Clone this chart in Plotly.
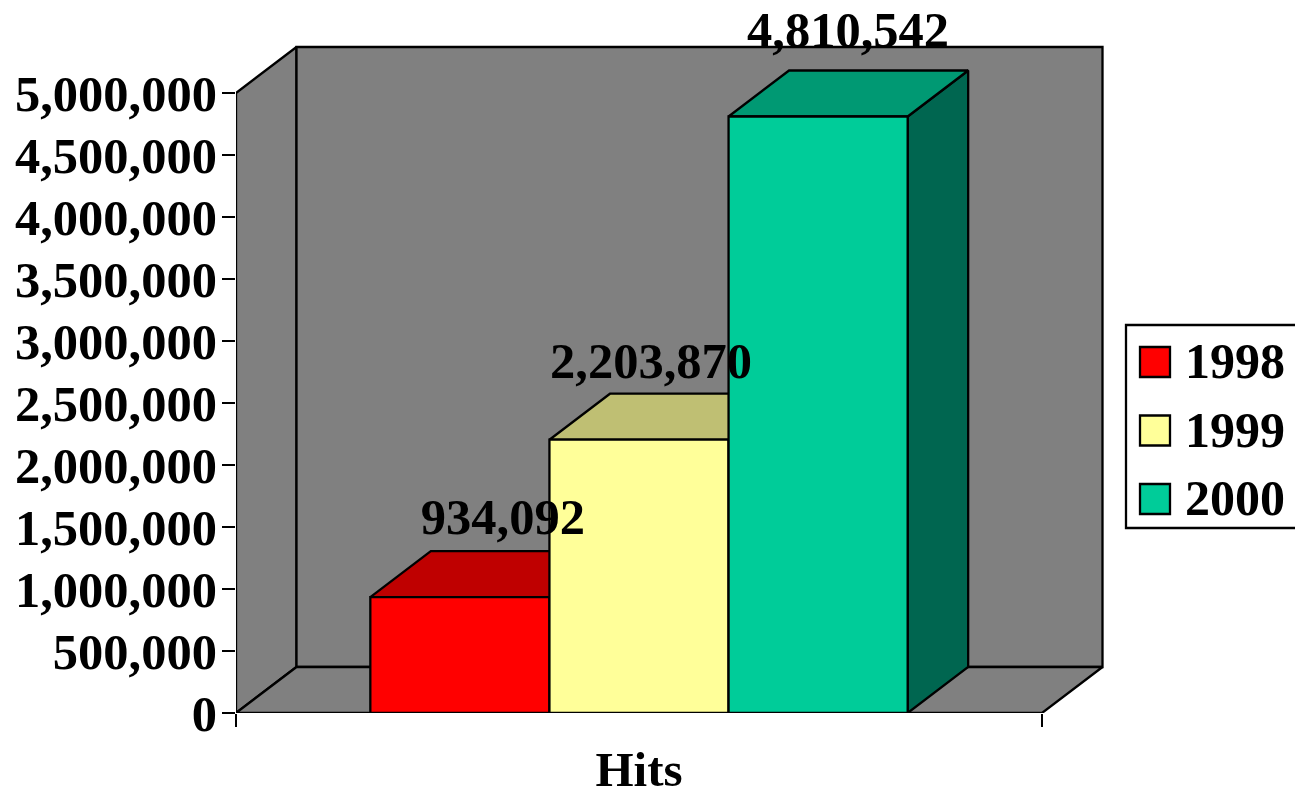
import plotly.graph_objects as go

# Yearly hit totals
years = ["1998", "1999", "2000"]
hits = [934092, 2203870, 4810542]
category = "Hits"
y_ticks = [0, 500000, 1000000, 1500000, 2000000, 2500000, 3000000, 3500000, 4000000, 4500000, 5000000]

FRONT = ["#FF0000", "#FFFF99", "#00CC99"]
TOP = ["#BF0000", "#BFBF73", "#009973"]
SIDE = ["#800000", "#808050", "#006650"]
WALL = "#808080"
FONT = "Liberation Serif"
FONT_SIZE = 50.5
EDGE = dict(color="black", width=2.3)

# Plot frame in pixels: front plane plus the oblique depth of the box.
# The y axis runs to the top of the page so the tallest value label stays in range.
W, H = 1295, 790
LEFT, RIGHT_FRONT, RIGHT = 236, 1042, 1104
ZERO_PX, MAX_PX = 713, 93
DEPTH_PX_X, DEPTH_PX_Y = 60.5, 46

Y_MAX = max(y_ticks)
units_per_px_y = Y_MAX / (ZERO_PX - MAX_PX)
units_per_px_x = 4.5 / (RIGHT_FRONT - LEFT)
dx = DEPTH_PX_X * units_per_px_x
dy = DEPTH_PX_Y * units_per_px_y
x0, x1 = -0.75, 3.75
x_top = x0 + (RIGHT - LEFT) * units_per_px_x
y_top = ZERO_PX * units_per_px_y

fig = go.Figure()


def face(xs, ys, fill, name=None):
    fig.add_trace(go.Scatter(
        x=xs + xs[:1], y=ys + ys[:1], mode="lines", fill="toself",
        fillcolor=fill, line=EDGE, showlegend=False, hoverinfo="skip",
        name=name, cliponaxis=False,
    ))


# Box walls and floor
face([x0, x0 + dx, x0 + dx, x0], [0, dy, Y_MAX + dy, Y_MAX], WALL)
face([x0 + dx, x1 + dx, x1 + dx, x0 + dx], [dy, dy, Y_MAX + dy, Y_MAX + dy], WALL)
face([x0, x1, x1 + dx, x0 + dx], [0, 0, dy, dy], WALL)

# Bars, left to right so each one covers the depth of the previous
for i, (year, value) in enumerate(zip(years, hits)):
    a, b = i, i + 1
    face([b, b + dx, b + dx, b], [0, dy, value + dy, value], SIDE[i])
    face([a, b, b + dx, a + dx], [value, value, value + dy, value + dy], TOP[i])
    face([a, b, b, a], [0, 0, value, value], FRONT[i], name=year)

# Value labels sit above the top face of each bar
label_shift_px = [43, 12, 30]
label_lift_px = [30, 28, 36]
fig.add_trace(go.Scatter(
    x=[i + 0.5 + s * units_per_px_x for i, s in enumerate(label_shift_px)],
    y=[v + dy + l * units_per_px_y for v, l in zip(hits, label_lift_px)],
    text=[f"{v:,}" for v in hits],
    mode="text", textposition="middle center", cliponaxis=False,
    textfont=dict(family=FONT, size=FONT_SIZE, color="black"),
    texttemplate="<b>%{text}</b>", showlegend=False, hoverinfo="skip",
))


def px_x(p):
    return (p - LEFT) / (RIGHT - LEFT)


def px_y(p):
    return (ZERO_PX - p) / ZERO_PX


# Legend box with a swatch and a label for each year
shapes = [dict(type="rect", xref="paper", yref="paper", layer="above",
               x0=px_x(1126), x1=px_x(1310), y0=px_y(528), y1=px_y(325),
               line=EDGE, fillcolor="white")]
annotations = []
for year, color, top in zip(years, FRONT, [347, 415.5, 484]):
    shapes.append(dict(type="rect", xref="paper", yref="paper", layer="above",
                       x0=px_x(1140), x1=px_x(1170), y0=px_y(top + 30), y1=px_y(top),
                       line=EDGE, fillcolor=color))
    annotations.append(dict(xref="paper", yref="paper", x=px_x(1183), y=px_y(top + 14),
                            text=f"<b>{year}</b>", showarrow=False, xanchor="left",
                            yanchor="middle", font=dict(family=FONT, size=50, color="black")))

fig.update_layout(
    width=W, height=H, autosize=False,
    margin=dict(l=LEFT, r=W - RIGHT, t=0, b=H - ZERO_PX, pad=0),
    paper_bgcolor="white", plot_bgcolor="white", showlegend=False,
    shapes=shapes, annotations=annotations,
    font=dict(family=FONT, color="black"),
    xaxis=dict(
        range=[x0, x_top], showgrid=False, zeroline=False, showline=False,
        automargin=False,
        tickmode="array", tickvals=[1.5], ticktext=[f"<b>{category}</b>"],
        ticks="", tickfont=dict(family=FONT, size=49, color="black"),
        ticklabelstandoff=23,
        minor=dict(tick0=x0, dtick=x1 - x0, ticks="outside", ticklen=13,
                   tickwidth=2.3, tickcolor="black", showgrid=False),
    ),
    yaxis=dict(
        range=[0, y_top], showgrid=False, zeroline=False, showline=False,
        automargin=False,
        tickmode="array", tickvals=y_ticks,
        ticktext=[f"<b>{v:,}</b>" for v in y_ticks],
        ticks="outside", ticklen=13, tickwidth=2.3, tickcolor="black",
        tickfont=dict(family=FONT, size=FONT_SIZE, color="black"),
        ticklabelstandoff=-5,
    ),
)

fig.write_html("out.html", config=dict(displayModeBar=False))
